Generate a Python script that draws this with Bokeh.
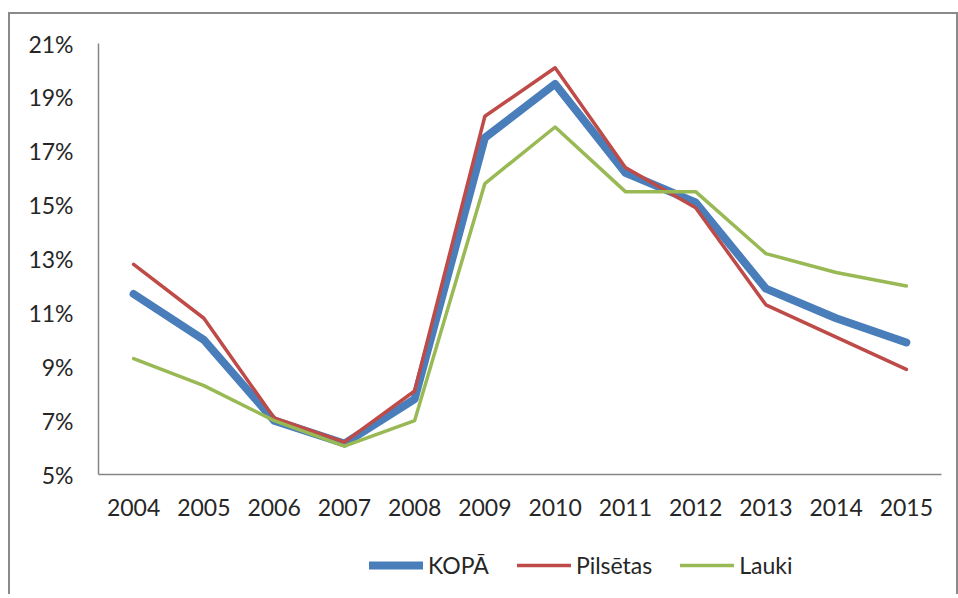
from bokeh.plotting import figure
from bokeh.layouts import column
from bokeh.models import FactorRange, Range1d, FixedTicker, PrintfTickFormatter, Legend, LegendItem
from bokeh.embed import file_html
from bokeh.resources import INLINE

years = ["2004", "2005", "2006", "2007", "2008", "2009", "2010", "2011", "2012", "2013", "2014", "2015"]
kopa = [11.7, 10.0, 7.0, 6.15, 7.8, 17.5, 19.5, 16.2, 15.1, 11.9, 10.8, 9.9]
pilsetas = [12.8, 10.8, 7.1, 6.2, 8.1, 18.3, 20.1, 16.4, 14.9, 11.3, 10.1, 8.9]
lauki = [9.3, 8.3, 7.0, 6.05, 7.0, 15.8, 17.9, 15.5, 15.5, 13.2, 12.5, 12.0]
y_ticks = [5, 7, 9, 11, 13, 15, 17, 19, 21]
series_names = ["KOPĀ", "Pilsētas", "Lauki"]
series_data = [kopa, pilsetas, lauki]
series_colors = ["#4A7EBB", "#BE4B48", "#98B954"]
series_widths = [8, 3.5, 3.5]

FONT = "Lato"
TXT = "#262626"
AXC = "#868686"

# ---- main chart ----
p = figure(x_range=FactorRange(*years), y_range=Range1d(5, 21),
           width=946, height=520, output_backend="svg", toolbar_location=None,
           min_border_left=88, min_border_right=15, min_border_top=29, min_border_bottom=60)
p.outline_line_color = None
p.xgrid.grid_line_color = None
p.ygrid.grid_line_color = None
p.background_fill_color = "white"
p.border_fill_color = "white"

for d, c, w in zip(series_data, series_colors, series_widths):
    p.line(years, d, line_color=c, line_width=w, line_join="round", line_cap="round")

for ax in (p.xaxis[0], p.yaxis[0]):
    ax.axis_line_color = AXC
    ax.axis_line_width = 1.5
    ax.major_tick_line_color = None
    ax.minor_tick_line_color = None
    ax.major_tick_in = 0
    ax.major_tick_out = 0
    ax.major_label_text_font = FONT
    ax.major_label_text_font_size = "23px"
    ax.major_label_text_color = TXT

p.xaxis.major_label_standoff = 24
p.yaxis.major_label_standoff = 25
p.yaxis.ticker = FixedTicker(ticks=y_ticks)
p.yaxis.formatter = PrintfTickFormatter(format="%d%%")

# ---- legend strip (same series, kept out of view; only the legend shows) ----
lg = figure(x_range=FactorRange(*years), y_range=Range1d(100, 101),
            width=946, height=50, output_backend="svg", toolbar_location=None,
            x_axis_location=None, y_axis_location=None,
            min_border_left=0, min_border_right=0, min_border_top=0, min_border_bottom=0)
lg.outline_line_color = None
lg.xgrid.grid_line_color = None
lg.ygrid.grid_line_color = None
lg.border_fill_color = "white"

items = []
for name, d, c, w in zip(series_names, series_data, series_colors, series_widths):
    r = lg.line(years, d, line_color=c, line_width=w, line_cap="round")
    items.append(LegendItem(label=name, renderers=[r]))

legend = Legend(
    items=items, orientation="horizontal", location=(271, 5),
    border_line_color=None, background_fill_alpha=0,
    label_text_font=FONT, label_text_font_size="23px", label_text_color=TXT,
    glyph_width=54, glyph_height=20, label_standoff=5, spacing=28,
    padding=0, margin=0,
)
lg.add_layout(legend, "center")

layout = column(p, lg, spacing=0)
layout.styles = {
    "box-sizing": "content-box",
    "border-left": "2px solid #8a8a8a",
    "border-top": "2px solid #8a8a8a",
    "border-right": "2px solid #8a8a8a",
    "margin-top": "12px",
    "margin-left": "8px",
    "padding-bottom": "10px",
}

open("out.html", "w").write(file_html(layout, INLINE))
